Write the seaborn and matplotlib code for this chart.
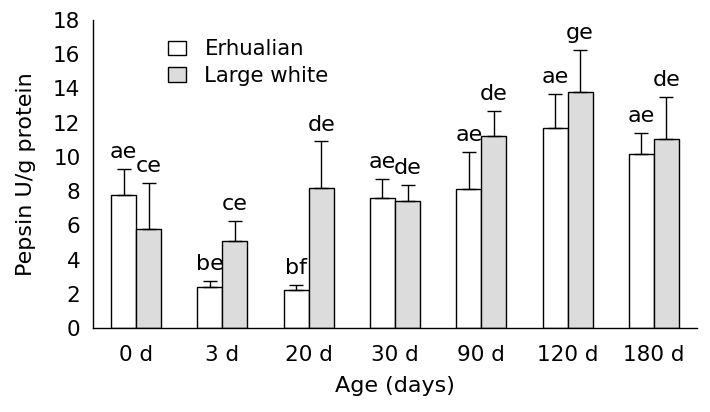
import matplotlib
matplotlib.use("Agg")
import matplotlib.pyplot as plt
import seaborn as sns
import pandas as pd
import numpy as np
from matplotlib.patches import Patch

ages = ["0 d", "3 d", "20 d", "30 d", "90 d", "120 d", "180 d"]
breeds = ["Erhualian", "Large white"]
erhualian = [7.8, 2.4, 2.2, 7.6, 8.1, 11.7, 10.15]
large_white = [5.8, 5.1, 8.2, 7.4, 11.2, 13.8, 11.05]
erhualian_err = [1.5, 0.35, 0.3, 1.1, 2.2, 2.0, 1.25]
large_white_err = [2.7, 1.15, 2.7, 0.95, 1.5, 2.45, 2.45]
erhualian_letters = ["ae", "be", "bf", "ae", "ae", "ae", "ae"]
large_white_letters = ["ce", "ce", "de", "de", "de", "ge", "de"]
y_ticks = [0, 2, 4, 6, 8, 10, 12, 14, 16, 18]

df = pd.DataFrame({
    "Age": ages * 2,
    "Breed": [breeds[0]] * len(ages) + [breeds[1]] * len(ages),
    "Value": erhualian + large_white,
})

sns.set_style("white")
plt.rcParams["font.family"] = ["DejaVu Sans"]
plt.rcParams["text.color"] = "black"
plt.rcParams["axes.labelcolor"] = "black"
plt.rcParams["xtick.color"] = "black"
plt.rcParams["ytick.color"] = "black"

fig = plt.figure(figsize=(7.1, 4.12), dpi=100)
ax = fig.add_axes([93 / 710, 84 / 412, 604 / 710, 308 / 412])

colors = ["#FFFFFF", "#DCDCDC"]
sns.barplot(data=df, x="Age", y="Value", hue="Breed", order=ages,
            hue_order=breeds, palette=colors, width=0.58, gap=0,
            edgecolor="black", linewidth=1.0, errorbar=None,
            legend=False, ax=ax, saturation=1)

errs = [erhualian_err, large_white_err]
letters = [erhualian_letters, large_white_letters]
bar_containers = list(ax.containers)
for k, cont in enumerate(bar_containers):
    xs = [p.get_x() + p.get_width() / 2 for p in cont.patches]
    ys = [p.get_height() for p in cont.patches]
    ax.errorbar(xs, ys, yerr=[np.zeros(len(ys)), errs[k]], fmt="none",
                ecolor="black", elinewidth=1.0, capsize=4.8, capthick=1.0,
                zorder=1)
    for x, y, e, t in zip(xs, ys, errs[k], letters[k]):
        ax.text(x, y + e + 0.4, t, ha="center", va="bottom", fontsize=16)

ax.set_ylim(0, 18)
ax.set_xlim(-0.5, len(ages) - 0.5)
ax.set_yticks(y_ticks)
ax.set_yticklabels([str(v) for v in y_ticks], fontsize=15.5)
ax.set_xticks(range(len(ages)))
ax.set_xticklabels(ages, fontsize=15.5)
ax.set_xticks(np.arange(-0.5, len(ages), 1.0), minor=True)
ax.tick_params(axis="x", which="major", length=0, pad=12)
ax.tick_params(axis="x", which="minor", direction="in", length=5, width=1, color="black")
ax.tick_params(axis="y", which="major", direction="in", length=6, width=1, color="black", pad=9)

for s in ["top", "right"]:
    ax.spines[s].set_visible(False)
for s in ["left", "bottom"]:
    ax.spines[s].set_color("black")
    ax.spines[s].set_linewidth(1.0)

ax.set_xlabel("Age (days)", fontsize=16, labelpad=8)
ax.set_ylabel("Pepsin U/g protein", fontsize=16, labelpad=12)

handles = [Patch(facecolor=c, edgecolor="black", linewidth=1.0) for c in colors]
ax.legend(handles, breeds, loc="upper left", bbox_to_anchor=(0.1, 0.985),
          frameon=False, fontsize=15.3, handlelength=0.85, handleheight=0.7,
          handletextpad=0.85, labelspacing=0.3, borderaxespad=0.3)

fig.savefig("out.png", dpi=100)
